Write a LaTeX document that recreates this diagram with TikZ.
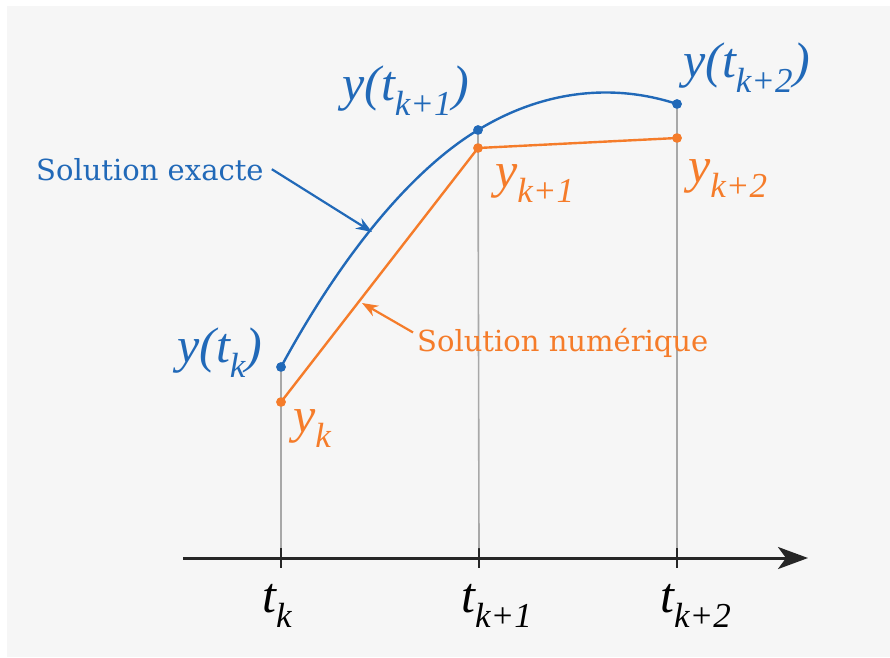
\documentclass[tikz,border=0pt]{standalone}
\usepackage{fontspec}
\setmainfont{DejaVu Serif}
\newfontfamily\labfont{Liberation Serif}
\usetikzlibrary{arrows.meta}
\definecolor{exactblue}{HTML}{2169B8}
\definecolor{numorange}{HTML}{F57C2A}
\definecolor{panelgray}{HTML}{F6F6F6}
\definecolor{guidegray}{HTML}{A8A8A8}

\begin{document}
\begin{tikzpicture}[x=1pt, y=-1pt,
  dot/.style={circle, fill, inner sep=0pt, minimum size=9.5pt},
  guide/.style={draw=guidegray, line width=1.6pt},
  exact/.style={draw=exactblue, line width=2.4pt},
  numer/.style={draw=numorange, line width=2.4pt},
  axisline/.style={draw=black!85, line width=3pt, -{Stealth[length=30pt, width=22pt, inset=8pt]}},
  tickline/.style={draw=black!85, line width=2pt},
  mathlab/.style={font=\fontsize{50}{56}\selectfont\labfont\itshape, inner sep=0pt, anchor=base west},
  textlab/.style={font=\fontsize{29}{35}\selectfont, inner sep=0pt, anchor=base west},
  pointer/.style={line width=2.2pt, -{Stealth[length=16pt, width=12pt]}},
]
  % background
  \fill[white] (0,0) rectangle (890,657);
  \fill[panelgray] (7,6) rectangle (890,657);
  \useasboundingbox (0,0) rectangle (890,657);

  % time axis
  \coordinate (axstart) at (183,558);
  \coordinate (axend) at (808,558);
  \draw[axisline] (axstart) -- (axend);
  \foreach \n/\x in {k/281, ka/479, kb/677} {
    \coordinate (tick\n) at (\x,558);
    \draw[tickline] ([yshift=10pt]tick\n) -- ([yshift=-10pt]tick\n);
  }

  % points
  \node[dot, exactblue] (ek) at (281,367) {};
  \node[dot, exactblue] (eka) at (478,130) {};
  \node[dot, exactblue] (ekb) at (677,104) {};
  \node[dot, numorange] (nk) at (281,402) {};
  \node[dot, numorange] (nka) at (478,148) {};
  \node[dot, numorange] (nkb) at (677,138) {};

  % guides
  \draw[guide] (ek.center) -- ([yshift=10pt]tickk);
  \draw[guide] (eka.center) -- ([yshift=10pt]tickka);
  \draw[guide] (ekb.center) -- ([yshift=10pt]tickkb);

  % solutions
  \draw[exact] (ek.center) .. controls (350,240) and (420,165) .. (eka.center)
    .. controls (540,92) and (610,82) .. (ekb.center);
  \draw[numer] (nk.center) -- (nka.center) -- (nkb.center);
  \node[dot, exactblue] at (ek) {};
  \node[dot, exactblue] at (eka) {};
  \node[dot, exactblue] at (ekb) {};
  \node[dot, numorange] at (nk) {};
  \node[dot, numorange] at (nka) {};
  \node[dot, numorange] at (nkb) {};

  % labels
  \node[textlab, exactblue] (exlab) at (36,180) {Solution exacte};
  \node[textlab, numorange] (numlab) at (417,351) {Solution numérique};
  \coordinate (exhit) at (372,232);
  \coordinate (numhit) at (362,303);
  \draw[pointer, exactblue] ([xshift=8pt]exlab.east) -- (exhit);
  \draw[pointer, numorange] ([xshift=-4pt, yshift=10pt]numlab.west) -- (numhit);

  \node[mathlab, exactblue] (lek) at (177,362) {y(t\textsubscript{k})};
  \node[mathlab, numorange] (lnk) at (293,432) {y\textsubscript{k}};
  \node[mathlab, exactblue] (leka) at (342,100) {y(t\textsubscript{k+1})};
  \node[mathlab, numorange] (lnka) at (495,187) {y\textsubscript{k+1}};
  \node[mathlab, exactblue] (lekb) at (683,77) {y(t\textsubscript{k+2})};
  \node[mathlab, numorange] (lnkb) at (688,182) {y\textsubscript{k+2}};

  \node[mathlab] (ltk) at (262,612) {t\textsubscript{k}};
  \node[mathlab] (ltka) at (461,612) {t\textsubscript{k+1}};
  \node[mathlab] (ltkb) at (660,612) {t\textsubscript{k+2}};
\end{tikzpicture}
\end{document}
